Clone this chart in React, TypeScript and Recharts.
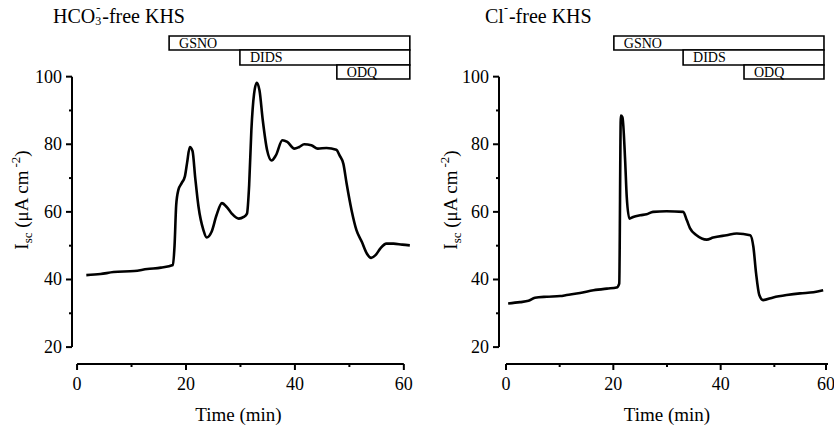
import React from "react";
import {
  ComposedChart,
  Line,
  XAxis,
  YAxis,
  ReferenceArea,
  ReferenceLine,
} from "recharts";

// HCO3- free KHS trace (time in min, Isc in µA cm-2)
const hcoTime = [
  1.7, 4.3, 6.7, 10.5, 12.9, 15.4, 17.6, 17.9, 18.2, 18.6, 19.2, 19.8, 20.2,
  20.7, 21.2, 21.7, 22.3, 23.2, 23.8, 24.7, 25.6, 26.6, 27.5, 28.4, 29.7, 30.6,
  31.2, 31.6, 32.0, 32.5, 33.0, 33.5, 34.1, 34.9, 35.7, 36.5, 37.7, 38.6, 39.9,
  40.8, 41.7, 43.0, 44.2, 45.8, 47.6, 48.2, 48.9, 49.5, 50.4, 51.3, 52.3, 53.2,
  54.0, 54.8, 55.7, 56.8, 58.1, 59.7, 61.1,
];
const hcoIsc = [
  41.3, 41.6, 42.2, 42.5, 43.1, 43.5, 44.3, 50, 62, 66.5, 68.5, 70.5, 74.5,
  79.2, 78, 70, 61.5, 54.6, 52.4, 54.1, 59, 62.6, 61.4, 59.5, 58, 58.5, 59.5,
  68, 84, 94.9, 98.2, 95.9, 87.1, 78.2, 75.2, 76.7, 81.2, 80.7, 78.7, 79.2, 80,
  79.7, 78.7, 78.9, 78.4, 76.7, 74.2, 68.3, 60.5, 54.6, 51.1, 47.7, 46.4, 47.2,
  49.2, 50.6, 50.6, 50.3, 50.1,
];

// Cl- free KHS trace
const clTime = [
  0.4, 2.6, 4.2, 5.4, 7.6, 10.1, 11.3, 13.8, 16.3, 18.8, 20.6, 21.1, 21.4, 21.7,
  22.2, 22.5, 23.0, 23.7, 25.0, 26.2, 27.4, 29.9, 33.0, 33.7, 34.3, 35.5, 37.4,
  38.6, 41.1, 43.0, 45.5, 46.1, 46.6, 47.2, 47.9, 49.8, 52.3, 54.8, 57.3, 59.1,
];
const clIsc = [
  32.9, 33.3, 33.7, 34.6, 34.9, 35.1, 35.4, 36.0, 36.8, 37.3, 37.6, 38.8, 88.5,
  88.0, 75.2, 64.4, 58.0, 58.5, 59.0, 59.3, 60.0, 60.2, 60.0, 57.5, 55.1, 53.1,
  51.8, 52.4, 53.1, 53.6, 53.1, 49.6, 41.8, 35.4, 33.9, 34.7, 35.4, 35.9, 36.2,
  36.8,
];

const xTicks = [0, 10, 20, 30, 40, 50, 60];
const yTicks = [20, 30, 40, 50, 60, 70, 80, 90, 100];

// treatment bars: [label, start, end]
const hcoBars: [string, number, number][] = [
  ["GSNO", 16.9, 61.1],
  ["DIDS", 29.9, 61.1],
  ["ODQ", 47.7, 61.1],
];
const clBars: [string, number, number][] = [
  ["GSNO", 20.1, 59.25],
  ["DIDS", 33.0, 59.25],
  ["ODQ", 44.35, 59.25],
];
const barRows: [number, number][] = [
  [107.88, 112.03],
  [103.45, 107.88],
  [99.31, 103.45],
];

const toRows = (t: number[], v: number[]) =>
  t.map((time, i) => ({ time, isc: v[i] }));

const hcoData = toRows(hcoTime, hcoIsc);
const clData = toRows(clTime, clIsc);

const FONT = '"Liberation Serif", "Times New Roman", serif';
const serif = { fontFamily: FONT };

function YTick(props: any) {
  const { x, y, payload } = props;
  const major = payload.value % 20 === 0;
  return (
    <g>
      <line x1={x} y1={y} x2={x - (major ? 6 : 3)} y2={y} stroke="#000" strokeWidth={2} />
      {major && (
        <text x={x - 10} y={y + 6} textAnchor="end" fontSize={18} fill="#000" style={serif}>
          {payload.value}
        </text>
      )}
    </g>
  );
}

function XTick(props: any) {
  const { x, y, payload } = props;
  const major = payload.value % 20 === 0;
  return (
    <g>
      <line x1={x} y1={y} x2={x} y2={y + (major ? 6 : 3)} stroke="#000" strokeWidth={2} />
      {major && (
        <text x={x} y={y + 26} textAnchor="middle" fontSize={18} fill="#000" style={serif}>
          {payload.value}
        </text>
      )}
    </g>
  );
}

function YLabel({ lx, ly }: { lx: number; ly: number }) {
  return (
    <text
      x={lx}
      y={ly}
      transform={`rotate(-90 ${lx} ${ly})`}
      textAnchor="middle"
      fontSize={19}
      fill="#000"
      style={serif}
    >
      I
      <tspan dy={4} fontSize={13}>sc</tspan>
      <tspan dy={-4}> (μA cm</tspan>
      <tspan dy={-8} dx={3} fontSize={13}>-2</tspan>
      <tspan dy={8}>)</tspan>
    </text>
  );
}

function XLabel({ lx, ly }: { lx: number; ly: number }) {
  return (
    <text x={lx} y={ly} textAnchor="middle" fontSize={19} fill="#000" style={serif}>
      Time (min)
    </text>
  );
}

function Panel({
  data,
  bars,
  width,
  yAxisWidth,
  xDomain,
  labelX,
  xLabelX,
}: {
  data: { time: number; isc: number }[];
  bars: [string, number, number][];
  width: number;
  yAxisWidth: number;
  xDomain: [number, number];
  labelX: number;
  xLabelX: number;
}) {
  return (
    <ComposedChart
      width={width}
      height={429}
      data={data}
      margin={{ top: 30, right: 2, bottom: 0, left: 0 }}
      style={serif}
    >
      <XAxis
        type="number"
        dataKey="time"
        domain={xDomain}
        allowDataOverflow
        ticks={xTicks}
        axisLine={false}
        tickLine={false}
        tickSize={0}
        tickMargin={0}
        height={65}
        tick={(p: any) => <XTick {...p} />}
        label={<XLabel lx={xLabelX} ly={421} />}
      />
      <YAxis
        type="number"
        domain={[15, 113.8]}
        allowDataOverflow
        ticks={yTicks}
        axisLine={false}
        tickLine={false}
        tickSize={0}
        tickMargin={0}
        width={yAxisWidth}
        tick={(p: any) => <YTick {...p} />}
        label={<YLabel lx={labelX} ly={200} />}
      />
      <ReferenceLine
        segment={[
          { x: xDomain[0], y: 20 },
          { x: xDomain[0], y: 100 },
        ]}
        stroke="#000"
        strokeWidth={2}
        ifOverflow="visible"
      />
      <ReferenceLine
        segment={[
          { x: 0, y: 15 },
          { x: 60, y: 15 },
        ]}
        stroke="#000"
        strokeWidth={2}
        ifOverflow="visible"
      />
      {bars.map(([name, start, end], i) => (
        <ReferenceArea
          key={name}
          x1={start}
          x2={end}
          y1={barRows[i][0]}
          y2={barRows[i][1]}
          fill="#fff"
          fillOpacity={1}
          stroke="#000"
          strokeWidth={1.6}
          ifOverflow="visible"
          label={{
            value: name,
            position: "insideLeft",
            offset: 10,
            fontSize: 14,
            fill: "#000",
            fontFamily: FONT,
            style: serif,
          }}
        />
      ))}
      <Line
        type="monotone"
        dataKey="isc"
        stroke="#000"
        strokeWidth={2.6}
        dot={false}
        activeDot={false}
        isAnimationActive={false}
      />
    </ComposedChart>
  );
}

export default function App() {
  return (
    <div
      style={{
        position: "absolute",
        left: 0,
        top: 0,
        width: 834,
        height: 429,
        background: "#fff",
        fontFamily: FONT,
        color: "#000",
        overflow: "hidden",
      }}
    >
      <div
        style={{
          position: "absolute",
          left: 53,
          top: 6,
          fontSize: 20,
          lineHeight: "20px",
          whiteSpace: "nowrap",
        }}
      >
        HCO
        <span style={{ position: "relative", display: "inline-block", width: 7 }}>
          <span style={{ position: "absolute", left: 0, top: -8, fontSize: 12, lineHeight: "12px" }}>
            3
          </span>
          <span style={{ position: "absolute", left: 1, top: -21, fontSize: 12, lineHeight: "12px" }}>
            -
          </span>
        </span>
        -free KHS
      </div>
      <div
        style={{
          position: "absolute",
          left: 485,
          top: 6,
          fontSize: 20,
          lineHeight: "20px",
          whiteSpace: "nowrap",
        }}
      >
        Cl
        <span style={{ position: "relative", display: "inline-block", width: 5 }}>
          <span style={{ position: "absolute", left: 0, top: -21, fontSize: 12, lineHeight: "12px" }}>
            -
          </span>
        </span>
        -free KHS
      </div>
      <div style={{ position: "absolute", left: 0, top: 0 }}>
        <Panel
          data={hcoData}
          bars={hcoBars}
          width={420}
          yAxisWidth={72}
          xDomain={[-0.93, 62.6]}
          labelX={28}
          xLabelX={238.5}
        />
      </div>
      <div style={{ position: "absolute", left: 420, top: 0 }}>
        <Panel
          data={clData}
          bars={clBars}
          width={414}
          yAxisWidth={79}
          xDomain={[-1.304, 60.745]}
          labelX={37}
          xLabelX={247}
        />
      </div>
    </div>
  );
}
